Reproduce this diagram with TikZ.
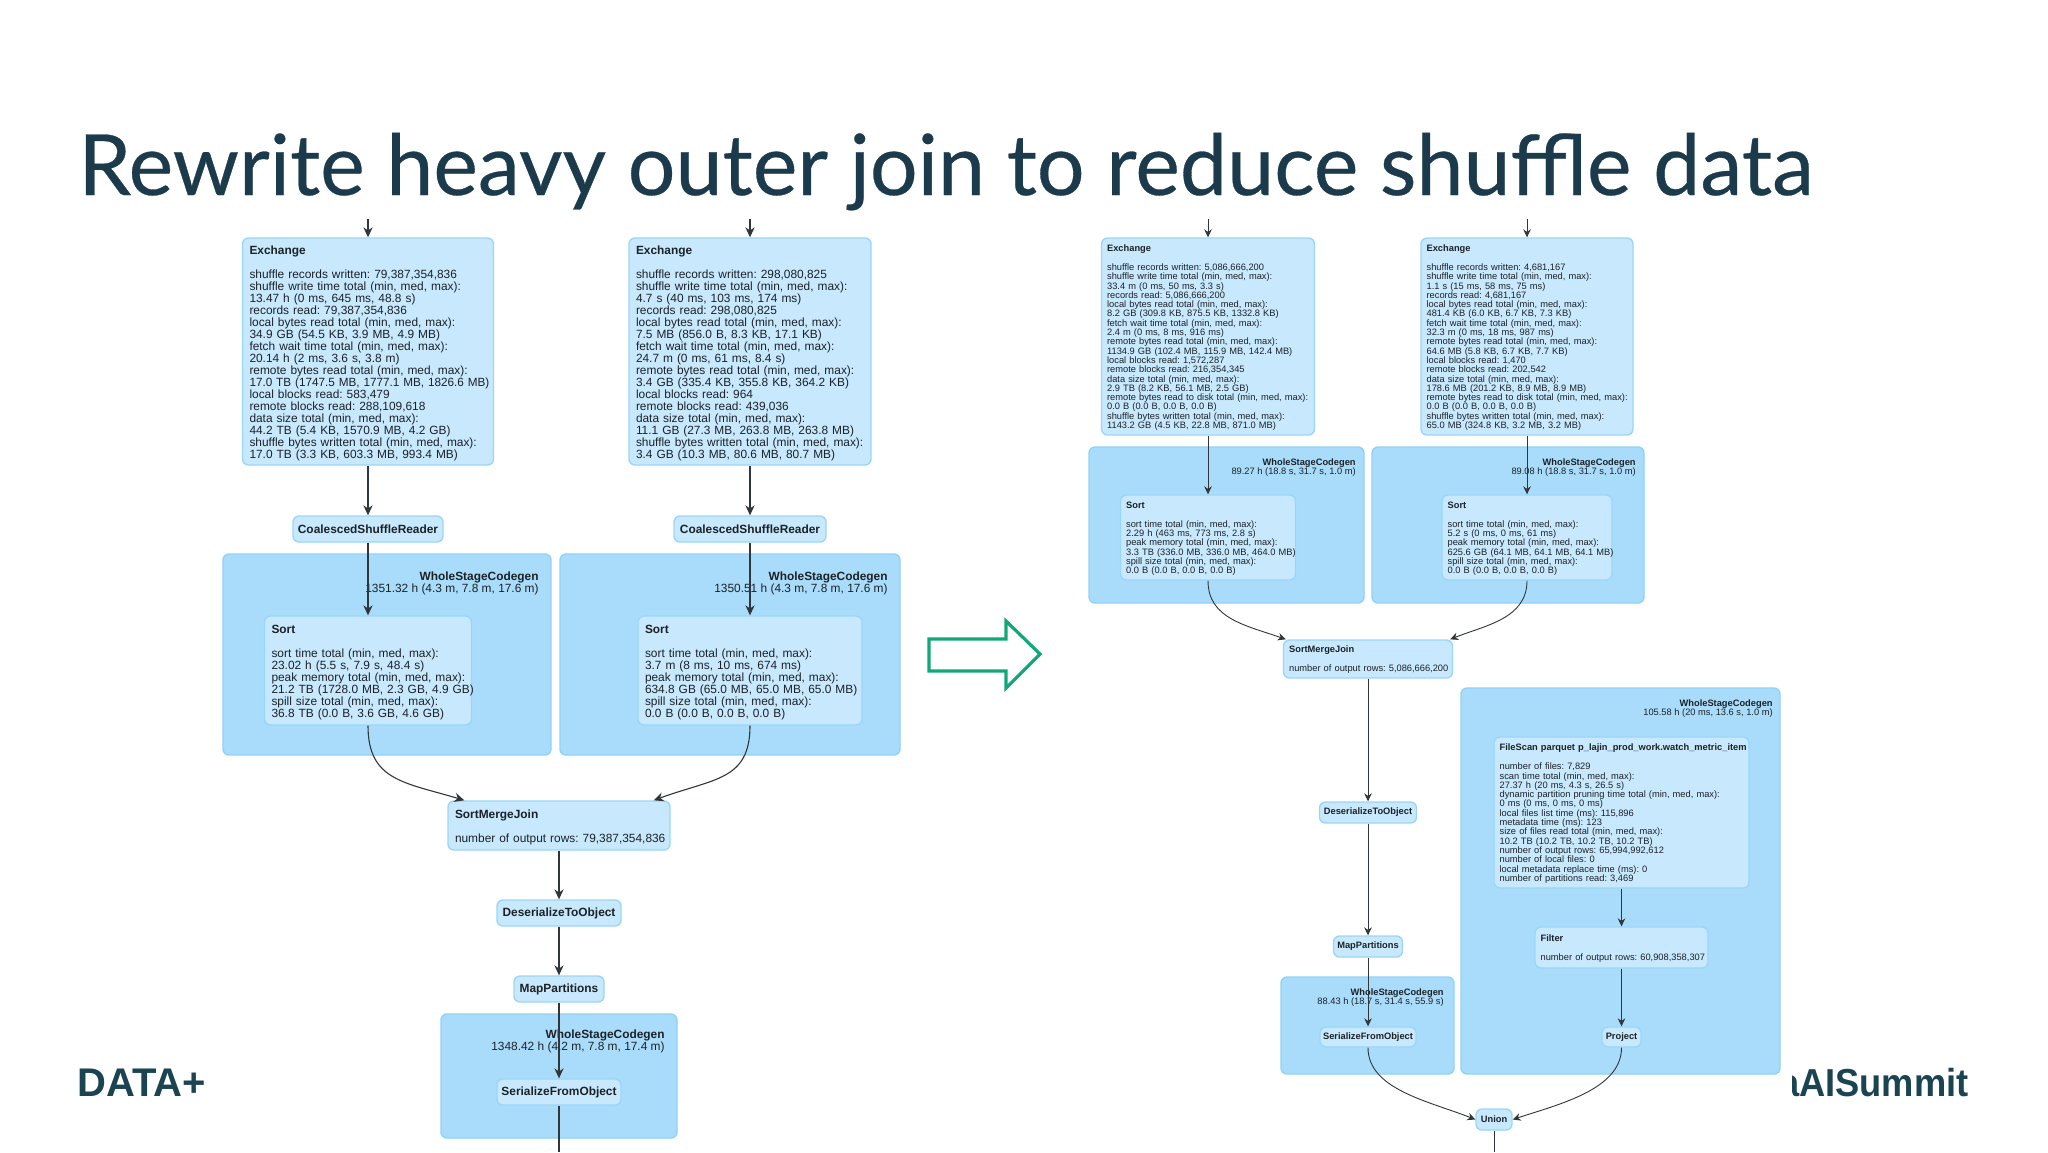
\documentclass[tikz,border=0pt]{standalone}
\usepackage{graphicx}
\usepackage{fontspec}
\setmainfont{Liberation Sans}
\newfontfamily\titlefont[FakeBold=0.35]{Lato}
\usetikzlibrary{arrows.meta,calc}
\lineskiplimit=-100pt
\frenchspacing
\newcommand\bigtxt{\fontsize{5.95}{6}\selectfont\lineskiplimit=-100pt\relax}
\newcommand\smalltxt{\fontsize{4.65}{4.65}\selectfont\lineskiplimit=-100pt\relax}
\newcommand\rl[1]{\leavevmode\rlap{#1}}
\newcommand\tb{\leavevmode\rule{0pt}{6.3pt}}
\newcommand\ts{\leavevmode\rule{0pt}{4.4pt}}
\definecolor{outerfill}{HTML}{A9DCFA}
\definecolor{outerline}{HTML}{8FD2F7}
\definecolor{innerfill}{HTML}{C7E8FD}
\definecolor{innerline}{HTML}{9BD6F8}
\definecolor{inkc}{HTML}{1C2226}
\definecolor{linec}{HTML}{30363A}
\definecolor{slate}{HTML}{1B3A4B}
\definecolor{logoc}{HTML}{1B4453}
\definecolor{greenc}{HTML}{10A878}
\tikzset{
  x=0.5pt,y=-0.5pt,
  outerbox/.code 2 args={\pgfmathsetmacro\bw{#1*0.5}\pgfmathsetmacro\bh{#2*0.5}\tikzset{minimum width=\bw pt,minimum height=\bh pt}},
  wscg/.style={draw=outerline,fill=outerfill,line width=0.7pt,rounded corners=3pt,inner sep=0pt},
  opsize/.code 2 args={\pgfmathsetmacro\bw{#1*0.5}\pgfmathsetmacro\tw{#1*0.5-7}\pgfmathsetmacro\bh{#2*0.5}\tikzset{minimum width=\bw pt,minimum height=\bh pt,text width=\tw pt}},
  opsizes/.code 2 args={\pgfmathsetmacro\bw{#1*0.5}\pgfmathsetmacro\tw{#1*0.5-5.6}\pgfmathsetmacro\bh{#2*0.5}\tikzset{minimum width=\bw pt,minimum height=\bh pt,text width=\tw pt,inner xsep=2.8pt}},
  op/.style={draw=innerline,fill=innerfill,line width=0.7pt,rounded corners=3pt,inner xsep=3.5pt,inner ysep=0pt,align=left,text=inkc},
  opc/.style={draw=innerline,fill=innerfill,line width=0.7pt,rounded corners=3pt,inner sep=0pt,align=center,text=inkc},
  wlab/.style={anchor=north east,align=right,inner sep=0pt,text=inkc},
  flow/.style={draw=linec,line width=0.55pt,-{Stealth[length=5pt,width=4.6pt]}},
  flowsm/.style={draw=linec,line width=0.45pt,-{Stealth[length=4pt,width=3.8pt]}},
}
\begin{document}
\begin{tikzpicture}
\useasboundingbox[fill=white] (0,0) rectangle (2048,1152);
% title and logos
\node[anchor=base west,inner sep=0pt,font=\titlefont\fontsize{42.2}{42.2}\selectfont,text=slate] (title) at (78,195) {Rewrite heavy outer join to reduce shuffle data};
\node[anchor=base west,inner sep=0pt,font=\bfseries\fontsize{20}{20}\selectfont,text=logoc] (logoL) at (77,1096) {DATA+};
\begin{scope}
\clip (1792,1040) rectangle (2048,1120);
\node[anchor=base east,inner sep=0pt,font=\bfseries\fontsize{19.5}{19.5}\selectfont,text=logoc] (logoR) at (1969,1096) {\scalebox{0.93}[1]{aAISummit}};
\end{scope}
% green arrow
\draw[greenc,line width=1.6pt,line join=miter] (929,639) -- (1006,639) -- (1006,621) -- (1040,654) -- (1006,688) -- (1006,671) -- (929,671) -- cycle;
% left clusters
\node[wscg,outerbox={328}{201}] (w1) at (387,654.5) {};
\node[wscg,outerbox={340}{201}] (w2) at (730,654.5) {};
\node[wscg,outerbox={236}{124}] (w3) at (559,1076) {};
\node[wlab,font=\bigtxt] (w1l) at (539,571) {\textbf{WholeStageCodegen}\\1351.32 h (4.3 m, 7.8 m, 17.6 m)};
\node[wlab,font=\bigtxt] (w2l) at (888,571) {\textbf{WholeStageCodegen}\\1350.51 h (4.3 m, 7.8 m, 17.6 m)};
\node[wlab,font=\bigtxt] (w3l) at (665,1029) {\textbf{WholeStageCodegen}\\1348.42 h (4.2 m, 7.8 m, 17.4 m)};
% left exchanges
\node[op,opsize={251}{227},font=\bigtxt] (ex1) at (368,351.5) {\tb\textbf{Exchange}\\[5.6pt]shuffle records written: 79,387,354,836\\shuffle write time total (min, med, max):\\13.47 h (0 ms, 645 ms, 48.8 s)\\records read: 79,387,354,836\\local bytes read total (min, med, max):\\34.9 GB (54.5 KB, 3.9 MB, 4.9 MB)\\fetch wait time total (min, med, max):\\20.14 h (2 ms, 3.6 s, 3.8 m)\\remote bytes read total (min, med, max):\\\rl{\scalebox{0.985}[1]{17.0 TB (1747.5 MB, 1777.1 MB, 1826.6 MB)}}\\local blocks read: 583,479\\remote blocks read: 288,109,618\\data size total (min, med, max):\\44.2 TB (5.4 KB, 1570.9 MB, 4.2 GB)\\shuffle bytes written total (min, med, max):\\17.0 TB (3.3 KB, 603.3 MB, 993.4 MB)};
\node[op,opsize={242}{227},font=\bigtxt] (ex2) at (750,351.5) {\tb\textbf{Exchange}\\[5.6pt]shuffle records written: 298,080,825\\shuffle write time total (min, med, max):\\4.7 s (40 ms, 103 ms, 174 ms)\\records read: 298,080,825\\local bytes read total (min, med, max):\\7.5 MB (856.0 B, 8.3 KB, 17.1 KB)\\fetch wait time total (min, med, max):\\24.7 m (0 ms, 61 ms, 8.4 s)\\remote bytes read total (min, med, max):\\3.4 GB (335.4 KB, 355.8 KB, 364.2 KB)\\local blocks read: 964\\remote blocks read: 439,036\\data size total (min, med, max):\\\rl{11.1 GB (27.3 MB, 263.8 MB, 263.8 MB)}\\\rl{shuffle bytes written total (min, med, max):}\\3.4 GB (10.3 MB, 80.6 MB, 80.7 MB)};
\node[opc,outerbox={150}{26},font=\bigtxt\bfseries] (co1) at (368,529) {CoalescedShuffleReader};
\node[opc,outerbox={152}{26},font=\bigtxt\bfseries] (co2) at (750,529) {CoalescedShuffleReader};
\node[op,opsize={207}{109},font=\bigtxt] (so1) at (368,670.5) {\tb\textbf{Sort}\\[5.6pt]sort time total (min, med, max):\\23.02 h (5.5 s, 7.9 s, 48.4 s)\\\rl{peak memory total (min, med, max):}\\\rl{21.2 TB (1728.0 MB, 2.3 GB, 4.9 GB)}\\spill size total (min, med, max):\\36.8 TB (0.0 B, 3.6 GB, 4.6 GB)};
\node[op,opsize={224}{109},font=\bigtxt] (so2) at (750,670.5) {\tb\textbf{Sort}\\[5.6pt]sort time total (min, med, max):\\3.7 m (8 ms, 10 ms, 674 ms)\\peak memory total (min, med, max):\\\rl{634.8 GB (65.0 MB, 65.0 MB, 65.0 MB)}\\spill size total (min, med, max):\\0.0 B (0.0 B, 0.0 B, 0.0 B)};
\node[op,opsize={222}{49},font=\bigtxt] (smj) at (559,825.5) {\tb\textbf{SortMergeJoin}\\[5.6pt]\rl{number of output rows: 79,387,354,836}};
\node[opc,outerbox={124}{26},font=\bigtxt\bfseries] (de) at (559,913) {DeserializeToObject};
\node[opc,outerbox={90}{26},font=\bigtxt\bfseries] (mp) at (559,989) {MapPartitions};
\node[opc,outerbox={124}{26},font=\bigtxt\bfseries] (sf) at (559,1092) {SerializeFromObject};
\coordinate (endL) at (559,1152);
\coordinate (inA) at (368,219);
\coordinate (inB) at (750,219);
% right clusters
\node[wscg,outerbox={275}{156}] (wa) at (1226.5,525) {};
\node[wscg,outerbox={272}{156}] (wb) at (1508,525) {};
\node[wscg,outerbox={173}{97}] (wc) at (1367.5,1025.5) {};
\node[wscg,outerbox={319}{386}] (wd) at (1620.5,881) {};
\node[wlab,font=\smalltxt] (wal) at (1356,458) {\textbf{WholeStageCodegen}\\89.27 h (18.8 s, 31.7 s, 1.0 m)};
\node[wlab,font=\smalltxt] (wbl) at (1636,458) {\textbf{WholeStageCodegen}\\89.08 h (18.8 s, 31.7 s, 1.0 m)};
\node[wlab,font=\smalltxt] (wcl) at (1444,988) {\textbf{WholeStageCodegen}\\88.43 h (18.7 s, 31.4 s, 55.9 s)};
\node[wlab,font=\smalltxt] (wdl) at (1773,699) {\textbf{WholeStageCodegen}\\105.58 h (20 ms, 13.6 s, 1.0 m)};
% right exchanges
\node[op,opsizes={213}{197},font=\smalltxt] (exa) at (1208,336.5) {\ts\textbf{Exchange}\\[4.9pt]shuffle records written: 5,086,666,200\\shuffle write time total (min, med, max):\\33.4 m (0 ms, 50 ms, 3.3 s)\\records read: 5,086,666,200\\local bytes read total (min, med, max):\\8.2 GB (309.8 KB, 875.5 KB, 1332.8 KB)\\fetch wait time total (min, med, max):\\2.4 m (0 ms, 8 ms, 916 ms)\\remote bytes read total (min, med, max):\\1134.9 GB (102.4 MB, 115.9 MB, 142.4 MB)\\local blocks read: 1,572,287\\remote blocks read: 216,354,345\\data size total (min, med, max):\\2.9 TB (8.2 KB, 56.1 MB, 2.5 GB)\\\rl{remote bytes read to disk total (min, med, max):}\\0.0 B (0.0 B, 0.0 B, 0.0 B)\\shuffle bytes written total (min, med, max):\\1143.2 GB (4.5 KB, 22.8 MB, 871.0 MB)};
\node[op,opsizes={212}{197},font=\smalltxt] (exb) at (1527,336.5) {\ts\textbf{Exchange}\\[4.9pt]shuffle records written: 4,681,167\\shuffle write time total (min, med, max):\\1.1 s (15 ms, 58 ms, 75 ms)\\records read: 4,681,167\\local bytes read total (min, med, max):\\481.4 KB (6.0 KB, 6.7 KB, 7.3 KB)\\fetch wait time total (min, med, max):\\32.3 m (0 ms, 18 ms, 987 ms)\\remote bytes read total (min, med, max):\\64.6 MB (5.8 KB, 6.7 KB, 7.7 KB)\\local blocks read: 1,470\\remote blocks read: 202,542\\data size total (min, med, max):\\178.6 MB (201.2 KB, 8.9 MB, 8.9 MB)\\\rl{remote bytes read to disk total (min, med, max):}\\0.0 B (0.0 B, 0.0 B, 0.0 B)\\shuffle bytes written total (min, med, max):\\65.0 MB (324.8 KB, 3.2 MB, 3.2 MB)};
\node[op,opsizes={175}{85},font=\smalltxt] (soa) at (1208,537.5) {\ts\textbf{Sort}\\[4.9pt]sort time total (min, med, max):\\2.29 h (463 ms, 773 ms, 2.8 s)\\peak memory total (min, med, max):\\\rl{3.3 TB (336.0 MB, 336.0 MB, 464.0 MB)}\\spill size total (min, med, max):\\0.0 B (0.0 B, 0.0 B, 0.0 B)};
\node[op,opsizes={170}{85},font=\smalltxt] (sob) at (1527,537.5) {\ts\textbf{Sort}\\[4.9pt]sort time total (min, med, max):\\5.2 s (0 ms, 0 ms, 61 ms)\\peak memory total (min, med, max):\\\rl{625.6 GB (64.1 MB, 64.1 MB, 64.1 MB)}\\spill size total (min, med, max):\\0.0 B (0.0 B, 0.0 B, 0.0 B)};
\node[op,opsizes={169}{38},font=\smalltxt] (smr) at (1368,659) {\ts\textbf{SortMergeJoin}\\[4.9pt]\rl{number of output rows: 5,086,666,200}};
\node[opc,outerbox={97}{21},font=\smalltxt\bfseries] (der) at (1368,812.5) {DeserializeToObject};
\node[opc,outerbox={69}{21},font=\smalltxt\bfseries] (mpr) at (1368,946.5) {MapPartitions};
\node[opc,outerbox={96}{20},font=\smalltxt\bfseries] (sfr) at (1368,1037) {SerializeFromObject};
\node[op,opsizes={255}{151},font=\smalltxt] (fs) at (1621.5,812.5) {\ts\textbf{\rl{FileScan parquet p\_lajin\_prod\_work.watch\_metric\_item}}\\[4.9pt]number of files: 7,829\\scan time total (min, med, max):\\27.37 h (20 ms, 4.3 s, 26.5 s)\\dynamic partition pruning time total (min, med, max):\\0 ms (0 ms, 0 ms, 0 ms)\\local files list time (ms): 115,896\\metadata time (ms): 123\\size of files read total (min, med, max):\\10.2 TB (10.2 TB, 10.2 TB, 10.2 TB)\\number of output rows: 65,994,992,612\\number of local files: 0\\local metadata replace time (ms): 0\\number of partitions read: 3,469};
\node[op,opsizes={173}{41},font=\smalltxt] (fi) at (1621.5,947.5) {\ts\textbf{Filter}\\[4.9pt]\rl{number of output rows: 60,908,358,307}};
\node[opc,outerbox={39}{20},font=\smalltxt\bfseries] (pr) at (1621.5,1037) {Project};
\node[opc,outerbox={36}{21},font=\smalltxt\bfseries] (un) at (1494,1119.5) {Union};
\coordinate (endR) at (1494,1152);
\coordinate (inC) at (1208,219);
\coordinate (inD) at (1527,219);
% left connectors
\draw[flow] (inA) -- (ex1.north);
\draw[flow] (inB) -- (ex2.north);
\draw[flow] (ex1.south) -- (co1.north);
\draw[flow] (ex2.south) -- (co2.north);
\draw[flow] (co1.south) -- (so1.north);
\draw[flow] (co2.south) -- (so2.north);
\draw[flow] (so1.south) .. controls +(0,55) and +(-60,-18) .. ($(smj.north west)+(17,0)$);
\draw[flow] (so2.south) .. controls +(0,55) and +(60,-22) .. ($(smj.north east)+(-17,0)$);
\draw[flow] (smj.south) -- (de.north);
\draw[flow] (de.south) -- (mp.north);
\draw[flow] (mp.south) -- (sf.north);
\draw[draw=linec,line width=0.55pt] (sf.south) -- (endL);
% right connectors
\draw[flowsm] (inC) -- (exa.north);
\draw[flowsm] (inD) -- (exb.north);
\draw[flowsm] (exa.south) -- (soa.north);
\draw[flowsm] (exb.south) -- (sob.north);
\draw[flowsm] (soa.south) .. controls +(0,38) and +(-40,-14) .. ($(smr.north west)+(3,0)$);
\draw[flowsm] (sob.south) .. controls +(0,38) and +(35,-14) .. ($(smr.north east)+(-3,0)$);
\draw[flowsm] (smr.south) -- (der.north);
\draw[flowsm] (der.south) -- (mpr.north);
\draw[flowsm] (mpr.south) -- (sfr.north);
\draw[flowsm] (fs.south) -- (fi.north);
\draw[flowsm] (fi.south) -- (pr.north);
\draw[flowsm] (sfr.south) .. controls +(0,42) and +(-45,-18) .. (un.west);
\draw[flowsm] (pr.south) .. controls +(0,42) and +(45,-15) .. (un.east);
\draw[draw=linec,line width=0.45pt] (un.south) -- (endR);
\end{tikzpicture}
\end{document}
